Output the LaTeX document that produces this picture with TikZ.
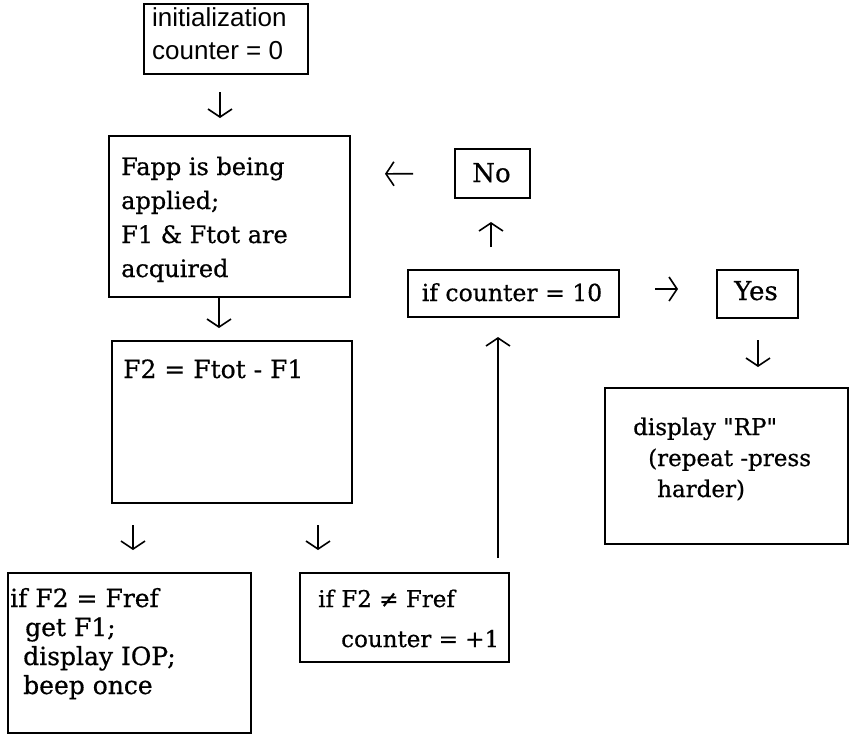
\documentclass[tikz,border=0pt]{standalone}
\usepackage{fontspec}
\setmainfont{DejaVu Serif}[FakeBold=0.6]
\newfontfamily\rawserif{DejaVu Serif}[FakeBold=0.6, Ligatures=TeXOff]
\newfontfamily\sansf{Liberation Sans}
\usetikzlibrary{arrows.meta}
\begin{document}
\begin{tikzpicture}[x=1pt,y=-1pt,
  box/.style={draw, line width=2pt, inner sep=0pt, anchor=north west},
  txt/.style={inner sep=0pt, anchor=base west, align=left},
  ctxt/.style={inner sep=0pt, anchor=base},
  arr/.style={line width=1.6pt, -{Straight Barb[length=8pt,width=24pt]}}]
\useasboundingbox[fill=white] (0,0) rectangle (849,734);

% boxes
\node[box, minimum width=164pt, minimum height=70pt] (init) at (143,3) {};
\node[box, minimum width=241pt, minimum height=161pt] (fapp) at (108,135) {};
\node[box, minimum width=240pt, minimum height=162pt] (f2) at (111,340) {};
\node[box, minimum width=75pt, minimum height=49pt] (no) at (454,148) {};
\node[box, minimum width=211pt, minimum height=47pt] (cnt) at (407,269) {};
\node[box, minimum width=81pt, minimum height=48pt] (yes) at (716,269) {};
\node[box, minimum width=243pt, minimum height=156pt] (rp) at (604,387) {};
\node[box, minimum width=243pt, minimum height=160pt] (eq) at (7,572) {};
\node[box, minimum width=209pt, minimum height=89pt] (neq) at (299,572) {};

% texts
\node[txt, font=\sansf\fontsize{26}{33}\selectfont] (init-t) at (152,26)
  {\begin{tabular}[t]{@{}l@{}}initialization\\counter = 0\end{tabular}};
\node[txt, font=\fontsize{24}{34}\selectfont] (fapp-t) at (121,175)
  {\begin{tabular}[t]{@{}l@{}}Fapp is being\\applied;\\F1 \& Ftot are\\acquired\end{tabular}};
\node[txt, font=\fontsize{25}{34}\selectfont] (f2-t) at (123,378) {F2 = Ftot - F1};
\node[ctxt, font=\fontsize{26}{34}\selectfont] (no-t) at (491.5,182) {No};
\node[ctxt, font=\fontsize{23.5}{34}\selectfont] (cnt-t) at (512,301) {if counter = 10};
\node[ctxt, font=\fontsize{26}{34}\selectfont] (yes-t) at (756,300) {Yes};
\node[txt, font=\rawserif\fontsize{23}{31}\selectfont] (rp-t) at (633,435)
  {\begin{tabular}[t]{@{}l@{}}display "RP"\\\hspace*{15pt}(repeat -press\\\hspace*{24pt}harder)\end{tabular}};
\node[txt, font=\fontsize{25}{29}\selectfont] (eq-t) at (10,607)
  {\begin{tabular}[t]{@{}l@{}}if F2 = Fref\\\hspace*{15pt}get F1;\\\hspace*{13pt}display IOP;\\\hspace*{13pt}beep once\end{tabular}};
\node[txt, font=\fontsize{23}{40}\selectfont] (neq-t) at (318,607)
  {\begin{tabular}[t]{@{}l@{}}if F2 ≠ Fref\\\hspace*{23pt}counter = +1\end{tabular}};

% connectors
\draw[arr, shorten <=17pt, shorten >=17pt] ([xshift=-6pt]init.south) -- ([xshift=-9.5pt]fapp.north);
\draw[arr, shorten >=12pt] ([xshift=-10.5pt]fapp.south) -- ([xshift=-13pt]f2.north);
\draw[arr, shorten <=21pt, shorten >=22pt] ([xshift=-99pt]f2.south) -- ([xshift=3.5pt]eq.north);
\draw[arr, shorten <=21pt, shorten >=22pt] ([xshift=86pt]f2.south) -- ([xshift=-86.5pt]neq.north);
\draw[arr, shorten <=14pt, shorten >=19pt] ([xshift=93.5pt]neq.north) -- ([xshift=-15.5pt]cnt.south);
\draw[arr, shorten <=22pt, shorten >=23pt] ([xshift=-22.5pt]cnt.north) -- ([xshift=-1.5pt]no.south);
\draw[arr, shorten <=41pt, shorten >=34pt] (no.west) -- ([yshift=42.5pt]fapp.east);
\draw[arr, shorten <=35pt, shorten >=38pt] ([yshift=4.5pt]cnt.east) -- ([yshift=5pt]yes.west);
\draw[arr, shorten <=21pt, shorten >=20pt] ([xshift=0.5pt]yes.south) -- ([xshift=31.5pt]rp.north);
\end{tikzpicture}
\end{document}
